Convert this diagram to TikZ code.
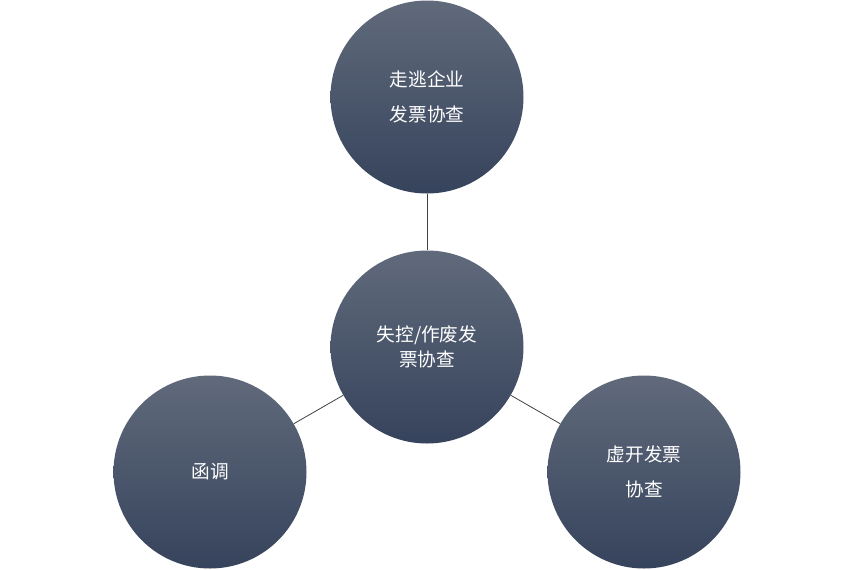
\documentclass[tikz,border=0pt]{standalone}
\usepackage{fontspec}
\newfontfamily\cjk{Noto Sans CJK SC}
\definecolor{ctop}{RGB}{96,106,123}
\definecolor{cbot}{RGB}{54,67,92}
\begin{document}
\begin{tikzpicture}[x=0.75pt,y=-0.75pt]
\tikzset{ball/.style={circle,minimum size=144.75pt,inner sep=0pt,top color=ctop,bottom color=cbot,draw=none,text=white,font=\cjk\fontsize{14}{19}\selectfont,align=center},
link/.style={draw=black!75,line width=0.6pt}}
\useasboundingbox (0,0) rectangle (854,569);
\node[ball] (t) at (427,97) {走逃企业\\[7pt]发票协查};
\node[ball] (c) at (427,347) {失控/作废发\\票协查};
\node[ball] (l) at (210,472) {函调};
\node[ball] (r) at (644,472) {虚开发票\\[7pt]协查};
\draw[link] (t) -- (c);
\draw[link] (c) -- (l);
\draw[link] (c) -- (r);
\end{tikzpicture}
\end{document}
